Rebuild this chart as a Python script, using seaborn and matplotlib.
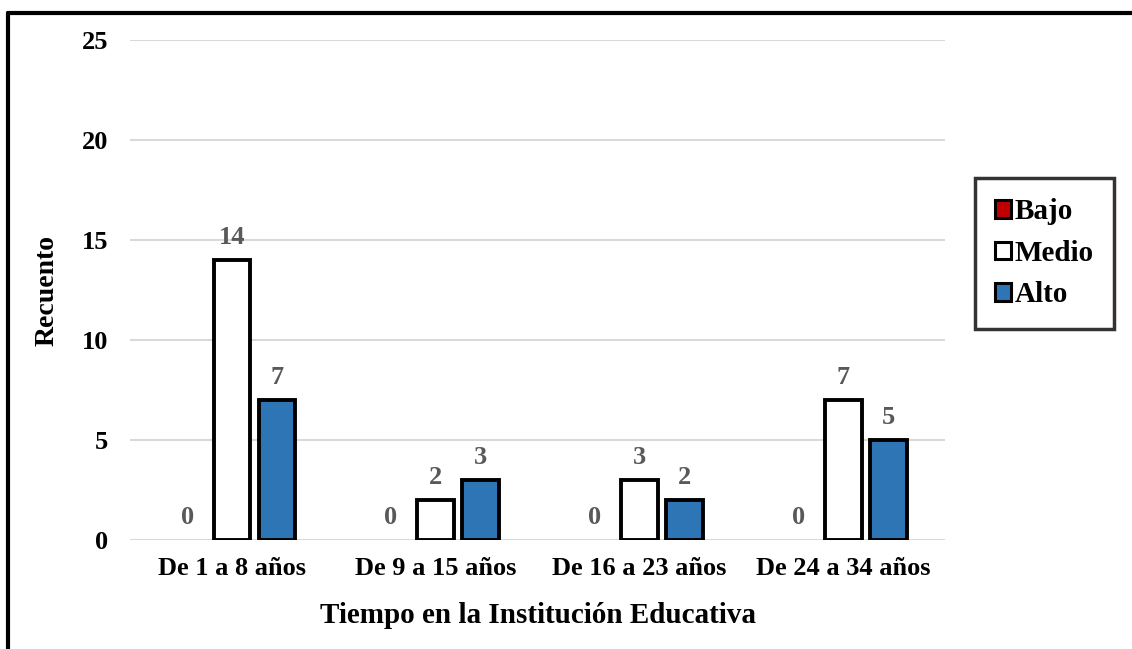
import matplotlib
matplotlib.use("Agg")
import matplotlib.pyplot as plt
from matplotlib.lines import Line2D
from matplotlib.patches import Patch
import seaborn as sns
import pandas as pd

# Data
categorias = ["De 1 a 8 años", "De 9 a 15 años", "De 16 a 23 años", "De 24 a 34 años"]
niveles = ["Bajo", "Medio", "Alto"]
bajo = [0, 0, 0, 0]
medio = [14, 2, 3, 7]
alto = [7, 3, 2, 5]
colores = {"Bajo": "#C00000", "Medio": "#FFFFFF", "Alto": "#2E75B6"}

df = pd.DataFrame({
    "Tiempo": categorias * 3,
    "Nivel": ["Bajo"] * 4 + ["Medio"] * 4 + ["Alto"] * 4,
    "Recuento": bajo + medio + alto,
})

sns.set_theme(style="white")
plt.rcParams["font.family"] = ["Liberation Serif", "DejaVu Serif"]
plt.rcParams["font.weight"] = "bold"
plt.rcParams["text.color"] = "black"
plt.rcParams["axes.labelcolor"] = "black"
plt.rcParams["xtick.color"] = "black"
plt.rcParams["ytick.color"] = "black"

fig = plt.figure(figsize=(11.32, 6.49), dpi=100)
ax = fig.add_axes([0.115, 0.168, 0.72, 0.770])

sns.barplot(data=df, x="Tiempo", y="Recuento", hue="Nivel", order=categorias,
            hue_order=niveles, palette=colores, saturation=1, width=0.66, gap=0.18,
            edgecolor="black", linewidth=2.8, ax=ax, legend=False, zorder=3)

# Zero-height bars leave no visible outline
for p in ax.patches:
    if p.get_height() == 0:
        p.set_linewidth(0)

for cont in ax.containers:
    ax.bar_label(cont, fmt="%d", padding=8, fontsize=19, fontweight="bold",
                 color="#595959")

ax.set_ylim(0, 25)
ax.set_yticks(range(0, 26, 5))
ax.yaxis.grid(True, color="#D9D9D9", linewidth=1.5, zorder=0)
ax.set_axisbelow(True)
for s in ax.spines.values():
    s.set_visible(False)
ax.tick_params(axis="both", length=0, labelsize=19, colors="black")
ax.tick_params(axis="y", pad=16)
ax.tick_params(axis="x", pad=12)
for lab in ax.get_xticklabels() + ax.get_yticklabels():
    lab.set_fontweight("bold")
ax.set_xlabel("Tiempo en la Institución Educativa", fontsize=21, fontweight="bold",
              labelpad=16, color="black")
ax.set_ylabel("Recuento", fontsize=20, fontweight="bold", labelpad=16, color="black")

handles = [Patch(facecolor=colores[n], edgecolor="black", linewidth=2.2, label=n) for n in niveles]
leg = fig.legend(handles=handles, loc="upper left", bbox_to_anchor=(0.861, 0.726),
                 borderaxespad=0, frameon=True, fancybox=False, handlelength=0.55,
                 handleheight=0.55, handletextpad=0.12, labelspacing=0.5,
                 borderpad=0.7, prop={"weight": "bold", "size": 21})
leg.get_frame().set_edgecolor("black")
leg.get_frame().set_linewidth(2.5)

# Outer frame on top and left
fig.add_artist(Line2D([8 / 1132, 1.0], [1 - 13 / 649, 1 - 13 / 649], color="black",
                      linewidth=3, transform=fig.transFigure))
fig.add_artist(Line2D([8 / 1132, 8 / 1132], [0, 1 - 13 / 649], color="black",
                      linewidth=3, transform=fig.transFigure))

fig.savefig("out.png", dpi=100, facecolor="white")
